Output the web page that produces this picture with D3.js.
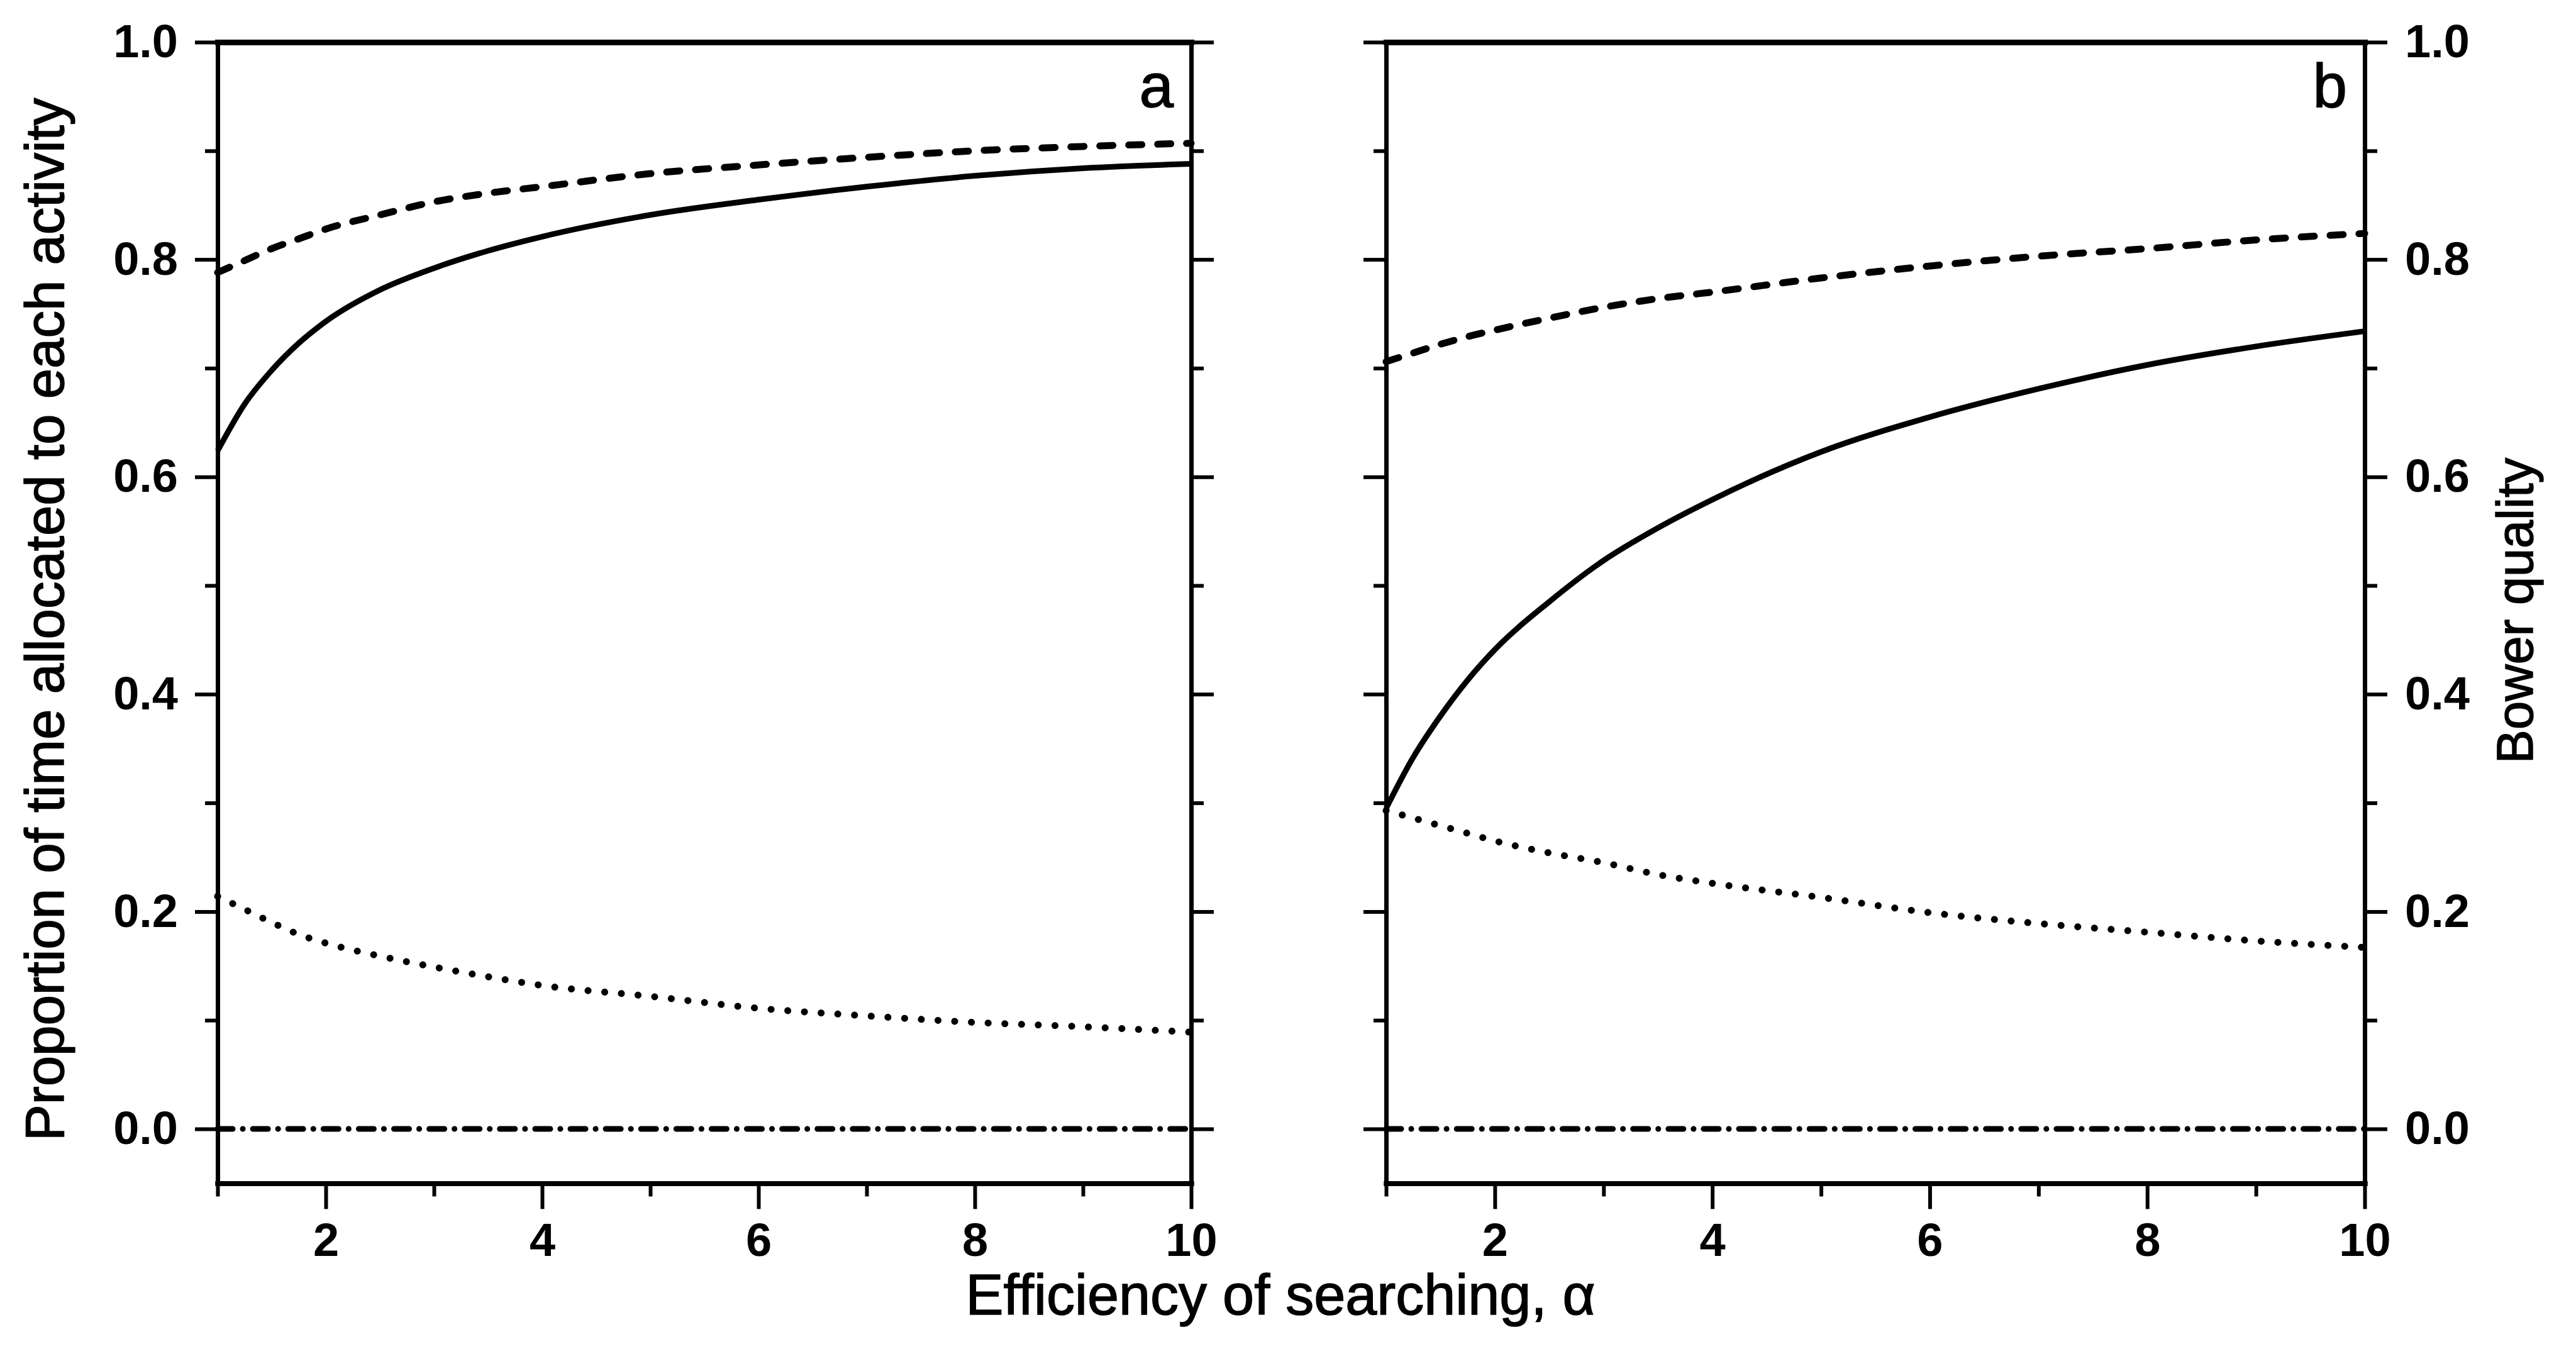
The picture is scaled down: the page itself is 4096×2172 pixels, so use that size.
<!DOCTYPE html>
<html>
<head>
<meta charset="utf-8">
<script src="https://cdn.jsdelivr.net/npm/d3@7"></script>
<style>
  body { margin: 0; background: #fff; }
  text { font-family: "Liberation Sans", Arial, sans-serif; fill: #000; }
</style>
</head>
<body>
<svg id="chart" width="4096" height="2172"></svg>
<script>
var alpha = [1, 1.25, 1.5, 1.75, 2, 2.5, 3, 3.5, 4, 5, 6, 7, 8, 9, 10]

// panel a: proportion of time
var a_solid   = [0.624, 0.667, 0.698, 0.723, 0.743, 0.772, 0.792, 0.808, 0.821, 0.841, 0.855, 0.867, 0.877, 0.884, 0.888]
var a_dashed  = [0.788, 0.799, 0.810, 0.819, 0.828, 0.841, 0.853, 0.861, 0.867, 0.879, 0.887, 0.894, 0.900, 0.904, 0.907]
var a_dotted  = [0.214, 0.202, 0.190, 0.179, 0.171, 0.159, 0.149, 0.140, 0.132, 0.122, 0.111, 0.104, 0.098, 0.094, 0.089]
var a_dashdot = [0, 0, 0, 0, 0, 0, 0, 0, 0, 0, 0, 0, 0, 0, 0]

// panel b: proportion of time / bower quality
var b_solid   = [0.295, 0.342, 0.380, 0.413, 0.441, 0.485, 0.523, 0.553, 0.579, 0.623, 0.655, 0.681, 0.703, 0.720, 0.734]
var b_dashed  = [0.706, 0.714, 0.722, 0.729, 0.735, 0.746, 0.756, 0.764, 0.770, 0.783, 0.794, 0.803, 0.810, 0.818, 0.824]
var b_dotted  = [0.293, 0.286, 0.279, 0.272, 0.265, 0.254, 0.245, 0.234, 0.226, 0.213, 0.199, 0.189, 0.181, 0.173, 0.167]
var b_dashdot = [0, 0, 0, 0, 0, 0, 0, 0, 0, 0, 0, 0, 0, 0, 0]

// ticks
var xTicks = [2, 4, 6, 8, 10]
var xMinor = [1, 3, 5, 7, 9]
var yTicks = [0, 0.2, 0.4, 0.6, 0.8, 1.0]
var yMinor = [0.1, 0.3, 0.5, 0.7, 0.9]

var svg = d3.select('#chart')

// line styles, same order in both panels
var styles = [
    { width: 9, dash: null, cap: 'butt' },              // solid
    { width: 11, dash: '21 25', cap: 'round' },         // dashed
    { width: 11, dash: '0.1 26.5', cap: 'round' },      // dotted
    { width: 9, dash: '24 16 0.1 16', cap: 'round' }    // dash-dot
]

var y = d3.scaleLinear().domain([0, 1]).range([1795, 67])
var yBottom = y(-0.05)

function style_axis(g, w) {
    g.attr('font-size', 74)
    g.select('.domain').attr('stroke-width', w).attr('stroke-linecap', 'square')
    g.selectAll('.tick line').attr('stroke-width', 6)
    g.selectAll('.tick text')
        .style('font-family', '"Liberation Sans Narrow", "Liberation Sans", Arial, sans-serif')
        .style('font-size', '74px')
        .style('font-weight', 'bold')
}

function draw_panel(left, right, series, leftLabels, rightLabels, letter) {
    var x = d3.scaleLinear().domain([1, 10]).range([left, right])

    // bottom axis
    var gb = svg.append('g').attr('transform', `translate(0,${yBottom})`)
        .call(d3.axisBottom(x).tickValues(xMinor).tickSize(21).tickSizeOuter(0).tickFormat(''))
    style_axis(gb, 8)
    gb = svg.append('g').attr('transform', `translate(0,${yBottom})`)
        .call(d3.axisBottom(x).tickValues(xTicks).tickSize(41).tickSizeOuter(0).tickPadding(22))
    style_axis(gb, 8)

    // top border
    var gt = svg.append('g').attr('transform', `translate(0,${y(1)})`)
        .call(d3.axisTop(x).tickValues([]).tickSizeOuter(0))
    style_axis(gt, 9)

    // left axis
    var yl = d3.scaleLinear().domain([-0.05, 1]).range([yBottom, y(1)])
    var gl = svg.append('g').attr('transform', `translate(${left},0)`)
        .call(d3.axisLeft(yl).tickValues(yMinor).tickSize(20).tickSizeOuter(0).tickFormat(''))
    style_axis(gl, 7)
    gl = svg.append('g').attr('transform', `translate(${left},0)`)
        .call(d3.axisLeft(yl).tickValues(yTicks).tickSize(36).tickSizeOuter(0).tickPadding(27)
            .tickFormat(leftLabels ? d3.format('.1f') : ''))
    style_axis(gl, 7)

    // right axis
    var gr = svg.append('g').attr('transform', `translate(${right},0)`)
        .call(d3.axisRight(yl).tickValues(yMinor).tickSize(20).tickSizeOuter(0).tickFormat(''))
    style_axis(gr, 7)
    gr = svg.append('g').attr('transform', `translate(${right},0)`)
        .call(d3.axisRight(yl).tickValues(yTicks).tickSize(36).tickSizeOuter(0).tickPadding(28)
            .tickFormat(rightLabels ? d3.format('.1f') : ''))
    style_axis(gr, 7)

    // curves
    var line = d3.line()
        .x(function (d) { return x(d[0]) })
        .y(function (d) { return y(d[1]) })
        .curve(d3.curveMonotoneX)

    series.forEach(function (vals, i) {
        var st = styles[i]
        svg.append('path')
            .datum(alpha.map(function (a, j) { return [a, vals[j]] }))
            .attr('d', line)
            .attr('fill', 'none')
            .attr('stroke', '#000')
            .attr('stroke-width', st.width)
            .attr('stroke-linecap', st.cap)
            .attr('stroke-dasharray', st.dash)
    })

    // panel letter
    svg.append('text')
        .attr('x', right - 28)
        .attr('y', 170)
        .attr('text-anchor', 'end')
        .attr('stroke', '#000')
        .attr('stroke-width', 1.5)
        .style('font-size', '98px')
        .text(letter)
}

draw_panel(346, 1894, [a_solid, a_dashed, a_dotted, a_dashdot], true, false, 'a')
draw_panel(2204, 3760, [b_solid, b_dashed, b_dotted, b_dashdot], false, true, 'b')

// axis titles
svg.append('text')
    .attr('transform', 'translate(101,985) rotate(-90)')
    .attr('text-anchor', 'middle')
    .attr('stroke', '#000')
    .attr('stroke-width', 1.5)
    .style('font-size', '87px')
    .text('Proportion of time allocated to each activity')

svg.append('text')
    .attr('transform', 'translate(4027,971) rotate(-90)')
    .attr('text-anchor', 'middle')
    .attr('stroke', '#000')
    .attr('stroke-width', 1.5)
    .style('font-size', '81px')
    .text('Bower quality')

svg.append('text')
    .attr('x', 2036)
    .attr('y', 2090)
    .attr('text-anchor', 'middle')
    .attr('stroke', '#000')
    .attr('stroke-width', 1.5)
    .style('font-size', '90px')
    .text('Efficiency of searching, α')
</script>
</body>
</html>
